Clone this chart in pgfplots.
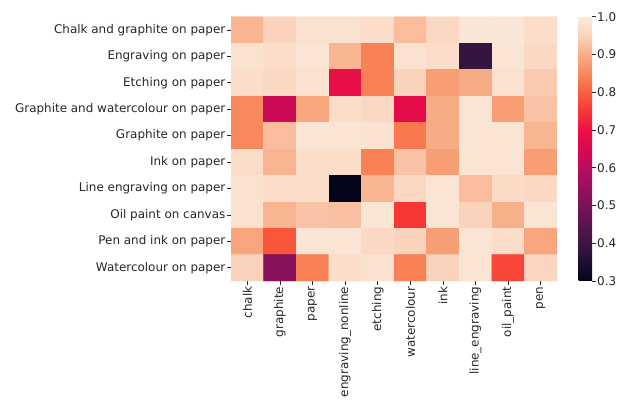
\documentclass[border=0pt]{standalone}
\usepackage{fontspec}
\setmainfont{DejaVu Sans}
\usepackage{pgfplots}
\usepackage{pgfplotstable}
\pgfplotsset{compat=1.18}
\pgfplotsset{colormap={rocketlike}{
rgb255(30pt)=(3,5,26);
rgb255(40pt)=(60,22,68);
rgb255(50pt)=(122,18,92);
rgb255(60pt)=(186,12,92);
rgb255(65pt)=(218,8,80);
rgb255(70pt)=(236,16,68);
rgb255(75pt)=(247,55,52);
rgb255(80pt)=(249,95,62);
rgb255(85pt)=(248,137,92);
rgb255(90pt)=(248,172,134);
rgb255(95pt)=(251,211,188);
rgb255(100pt)=(250,235,221)}}
\pgfplotstableread{
x y c
0 0 0.91
1 0 0.95
2 0 0.98
3 0 0.98
4 0 0.97
5 0 0.92
6 0 0.96
7 0 0.99
8 0 0.99
9 0 0.97
0 1 0.98
1 1 0.97
2 1 0.985
3 1 0.91
4 1 0.84
5 1 0.98
6 1 0.97
7 1 0.39
8 1 0.985
9 1 0.96
0 2 0.97
1 2 0.96
2 2 0.98
3 2 0.69
4 2 0.84
5 2 0.95
6 2 0.88
7 2 0.90
8 2 0.98
9 2 0.94
0 3 0.85
1 3 0.63
2 3 0.89
3 3 0.97
4 3 0.96
5 3 0.68
6 3 0.90
7 3 0.985
8 3 0.88
9 3 0.93
0 4 0.85
1 4 0.92
2 4 0.985
3 4 0.985
4 4 0.98
5 4 0.83
6 4 0.90
7 4 0.985
8 4 0.985
9 4 0.91
0 5 0.97
1 5 0.91
2 5 0.97
3 5 0.97
4 5 0.84
5 5 0.93
6 5 0.88
7 5 0.985
8 5 0.985
9 5 0.88
0 6 0.98
1 6 0.97
2 6 0.97
3 6 0.30
4 6 0.91
5 6 0.96
6 6 0.985
7 6 0.92
8 6 0.965
9 6 0.96
0 7 0.98
1 7 0.91
2 7 0.93
3 7 0.925
4 7 0.985
5 7 0.75
6 7 0.985
7 7 0.95
8 7 0.905
9 7 0.985
0 8 0.89
1 8 0.79
2 8 0.985
3 8 0.985
4 8 0.96
5 8 0.95
6 8 0.88
7 8 0.985
8 8 0.97
9 8 0.89
0 9 0.95
1 9 0.52
2 9 0.84
3 9 0.97
4 9 0.98
5 9 0.84
6 9 0.95
7 9 0.985
8 9 0.77
9 9 0.955
}\heat
\begin{document}
\begin{tikzpicture}
\begin{axis}[
  at={(231bp,123bp)}, anchor=south west,
  scale only axis, width=326bp, height=264.3bp,
  xmin=-0.5, xmax=9.5, ymin=-0.5, ymax=9.5,
  enlargelimits=false,
  y dir=reverse,
  colormap name=rocketlike,
  point meta min=0.3, point meta max=1.0,
  font=\fontsize{12}{14}\selectfont,
  axis line style={draw=none},
  tick align=outside,
  major tick length=3.5bp,
  tick style={black!85, line width=0.8bp},
  xtick pos=bottom, ytick pos=left,
  xtick={0,...,9}, ytick={0,...,9},
  xticklabels={chalk,graphite,paper,engraving\_nonline,etching,watercolour,ink,line\_engraving,oil\_paint,pen},
  yticklabels={Chalk and graphite on paper,Engraving on paper,Etching on paper,Graphite and watercolour on paper,Graphite on paper,Ink on paper,Line engraving on paper,Oil paint on canvas,Pen and ink on paper,Watercolour on paper},
  xticklabel style={rotate=90, anchor=east, text=black!85, inner sep=2bp},
  yticklabel style={text=black!85, inner sep=2bp},
  colorbar right,
  colorbar style={
    at={(parent axis.north east)}, anchor=north west, xshift=13bp,
    width=13.5bp, height=264.3bp,
    axis line style={draw=none},
    ytick={0.3,0.4,0.5,0.6,0.7,0.8,0.9,1.0},
    /pgf/number format/fixed,
    /pgf/number format/fixed zerofill,
    /pgf/number format/precision=1,
    /pgf/number format/assume math mode=true,
    yticklabel style={text=black!85, font=\fontsize{12}{14}\selectfont, inner sep=1.5bp},
    tick align=outside, major tick length=3.5bp,
    tick style={black!85, line width=0.8bp},
    ytick pos=right, yticklabel pos=right,
  },
]
\addplot[matrix plot*, mesh/cols=10, point meta=explicit] table[x=x, y=y, meta=c] {\heat};
\end{axis}
\pgfresetboundingbox
\path (0,0) rectangle (619bp,404bp);
\end{tikzpicture}
\end{document}
